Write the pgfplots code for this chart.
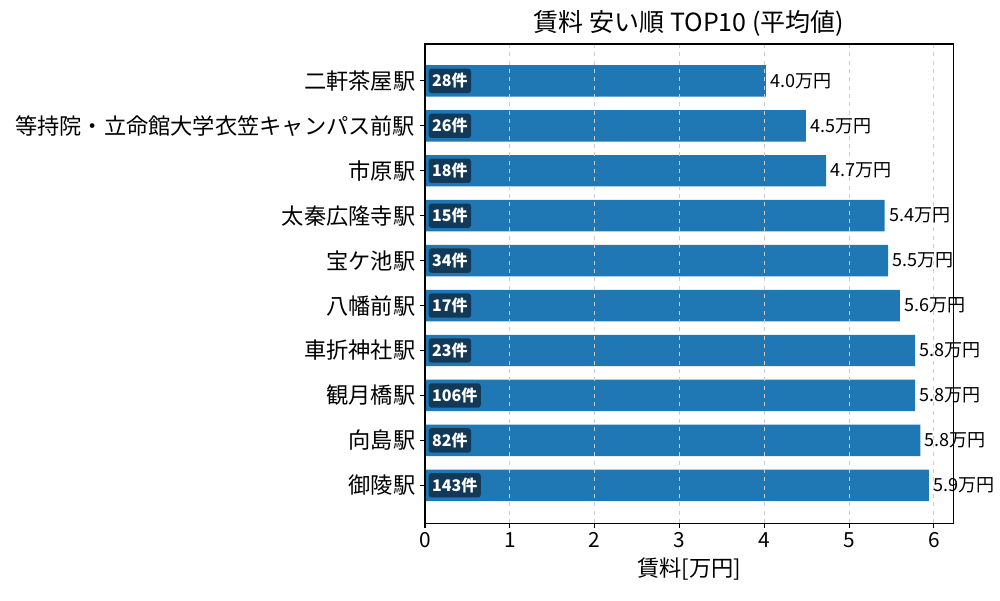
\documentclass[border=0pt]{standalone}
\usepackage{fontspec}
\setmainfont{Noto Sans CJK JP}
\usepackage{pgfplots}
\usepackage{pgfplotstable}
\pgfplotsset{compat=1.18}
\definecolor{barblue}{HTML}{1F77B4}
\definecolor{badge}{HTML}{123A58}
\definecolor{gridgray}{HTML}{CCCCCC}

% average rent (10k yen) and number of listings per station
\pgfplotstableread{
y val cnt
9 4.02 28
8 4.49 26
7 4.73 18
6 5.42 15
5 5.46 34
4 5.60 17
3 5.78 23
2 5.78 106
1 5.84 82
0 5.94 143
}\rent

\begin{document}
\begin{tikzpicture}
\useasboundingbox (-306pt,-55.4pt) rectangle (414pt,376.6pt);
\begin{axis}[
  scale only axis,
  width=380.2pt, height=344.9pt,
  xmin=0, xmax=6.226,
  ymin=-0.84, ymax=9.82,
  xtick={0,1,2,3,4,5,6},
  ytick={0,...,9},
  yticklabels={御陵駅,向島駅,観月橋駅,車折神社駅,八幡前駅,宝ケ池駅,太秦広隆寺駅,市原駅,等持院・立命館大学衣笠キャンパス前駅,二軒茶屋駅},
  tick pos=left,
  tick align=outside,
  major tick length=3.5pt,
  every tick/.style={black, line width=0.8pt},
  axis line style={line width=0.8pt},
  xmajorgrids,
  major grid style={gridgray, dashed, line width=0.8pt},
  axis on top,
  /pgf/number format/assume math mode=true,
  xticklabel style={font=\fontsize{15}{18}\selectfont},
  yticklabel style={font=\fontsize{16}{19}\selectfont},
  xlabel={賃料[万円]},
  xlabel style={font=\fontsize{16}{19}\selectfont},
  title={賃料 安い順 TOP10 (平均値)},
  title style={font=\fontsize{18}{22}\selectfont, yshift=-4pt},
]
\addplot[xbar, bar width=0.7, fill=barblue, draw=none,
  point meta=x,
  nodes near coords={\pgfmathprintnumber[fixed,fixed zerofill,precision=1]{\pgfplotspointmeta}万円},
  nodes near coords style={anchor=west, black, font=\fontsize{13}{15}\selectfont, inner xsep=3pt},
] table[x=val, y=y] {\rent};
\addplot[draw=none, mark=none,
  point meta=explicit symbolic,
  nodes near coords={\pgfplotspointmeta 件},
  nodes near coords style={anchor=west, fill=badge, text=white, rounded corners=2pt,
    font=\bfseries\fontsize{11.5}{13}\selectfont, inner xsep=2.5pt, minimum height=17pt},
] table[x expr=0.04, y=y, meta=cnt] {\rent};
\end{axis}
\end{tikzpicture}
\end{document}
